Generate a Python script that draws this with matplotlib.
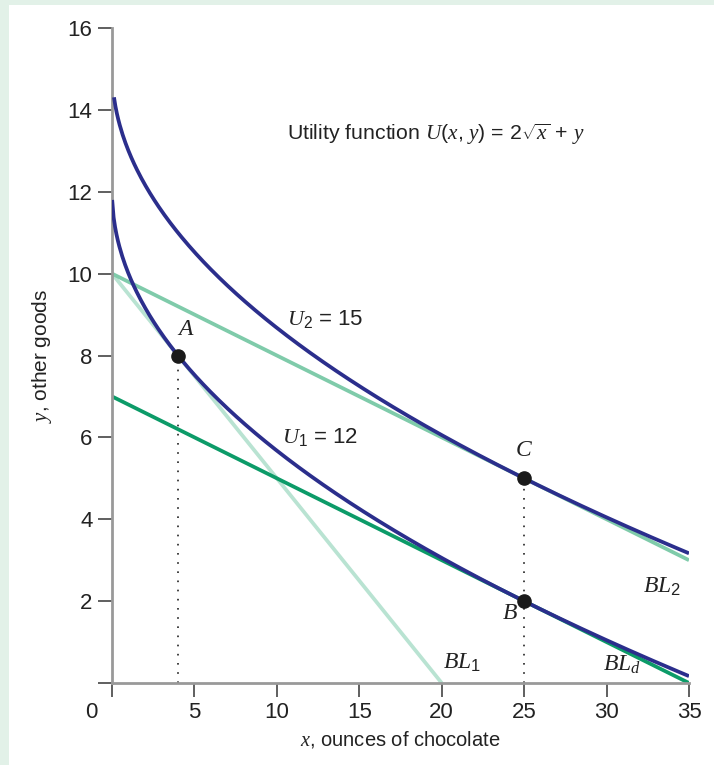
import matplotlib.pyplot as plt
import numpy as np
from matplotlib.patches import Rectangle

plt.rcParams["font.family"] = ["Liberation Sans", "DejaVu Sans"]
plt.rcParams["mathtext.fontset"] = "custom"
plt.rcParams["mathtext.it"] = "Liberation Serif:italic"
plt.rcParams["mathtext.rm"] = "Liberation Sans"
plt.rcParams["mathtext.sf"] = "Liberation Sans"

# Data
utility_levels = [12, 15]          # U(x, y) = 2*sqrt(x) + y
curve_x_start = [0.01, 0.12]
bl1_x = [0, 20]
bl1_y = [10, 0]
bl2_x = [0, 35]
bl2_y = [10, 3]
bld_x = [0, 35]
bld_y = [7, 0]
point_names = ["A", "B", "C"]
point_x = [4, 25, 25]
point_y = [8, 2, 5]
x_ticks = [0, 5, 10, 15, 20, 25, 30, 35]
y_ticks = [0, 2, 4, 6, 8, 10, 12, 14, 16]

navy = "#2b2e8c"
bl1_col = "#b9e3d2"
bl2_col = "#7fcbaa"
bld_col = "#0c9b68"
txt = "#222222"

fig = plt.figure(figsize=(7.14, 7.65), dpi=100)
fig.patch.set_facecolor("#e2f1e8")
bg = fig.add_axes([0, 0, 1, 1], zorder=-5)
bg.set_axis_off()
bg.add_patch(Rectangle((9 / 714, 0), 1, 1 - 5 / 765, transform=bg.transAxes,
                       facecolor="white", edgecolor="none"))

ax = fig.add_axes([112 / 714, 1 - 683 / 765, 577 / 714, 655 / 765])
ax.set_facecolor("none")

# budget lines
ax.plot(bl1_x, bl1_y, color=bl1_col, lw=2.7, solid_capstyle="butt", zorder=2)
ax.plot(bl2_x, bl2_y, color=bl2_col, lw=2.7, solid_capstyle="butt", zorder=2)
ax.plot(bld_x, bld_y, color=bld_col, lw=2.7, solid_capstyle="butt", zorder=2)

# indifference curves
for u, x0 in zip(utility_levels, curve_x_start):
    xs = np.linspace(x0, 35, 400)
    ax.plot(xs, u - 2 * np.sqrt(xs), color=navy, lw=2.7, solid_capstyle="butt", zorder=3)

# dotted drop lines
ax.plot([point_x[0], point_x[0]], [0, point_y[0]], color=txt, ls=(0, (1, 4.5)), lw=1.2, zorder=1)
ax.plot([point_x[2], point_x[2]], [0, point_y[2]], color=txt, ls=(0, (1, 4.5)), lw=1.2, zorder=1)

ax.plot(point_x, point_y, "o", color="#1a1a1a", ms=9.5, zorder=5)

# labels
ax.text(3.95, 8.65, "$A$", fontsize=17, ha="left", va="center", color=txt)
ax.text(24.6, 1.7, "$B$", fontsize=17, ha="right", va="center", color=txt)
ax.text(25.0, 5.7, "$C$", fontsize=17, ha="center", va="center", color=txt)
ax.text(10.6, 8.9, "$U_2$ = 15", fontsize=16, ha="left", va="center", color=txt)
ax.text(10.3, 6.0, "$U_1$ = 12", fontsize=16, ha="left", va="center", color=txt)
ax.text(20.1, 0.5, "$BL_1$", fontsize=17, ha="left", va="center", color=txt)
ax.text(29.8, 0.45, "$BL_d$", fontsize=17, ha="left", va="center", color=txt)
ax.text(32.2, 2.35, "$BL_2$", fontsize=17, ha="left", va="center", color=txt)
ax.text(10.6, 13.4, "Utility function $U(x,\\,y)$ = 2$\\sqrt{x}$ + $y$", fontsize=15.3,
        ha="left", va="center", color=txt)

ax.set_xlim(0, 35)
ax.set_ylim(0, 16)
ax.set_xticks(x_ticks)
ax.set_xticklabels([""] + [str(t) for t in x_ticks[1:]])
ax.set_yticks(y_ticks)
ax.set_yticklabels([""] + [str(t) for t in y_ticks[1:]])
ax.text(-1.27, -0.71, "0", fontsize=16, ha="center", va="center", color=txt)

for s in ["top", "right"]:
    ax.spines[s].set_visible(False)
for s in ["left", "bottom"]:
    ax.spines[s].set_color("#999999")
    ax.spines[s].set_linewidth(2)
ax.tick_params(direction="out", length=10, width=1.2, color="#444444",
               labelsize=16, labelcolor=txt, pad=4)

ax.set_xlabel("$x$, ounces of chocolate", fontsize=14.5, color=txt, labelpad=4)
ax.set_ylabel("$y$, other goods", fontsize=15, color=txt, labelpad=10)

fig.savefig("out.png", dpi=100)
